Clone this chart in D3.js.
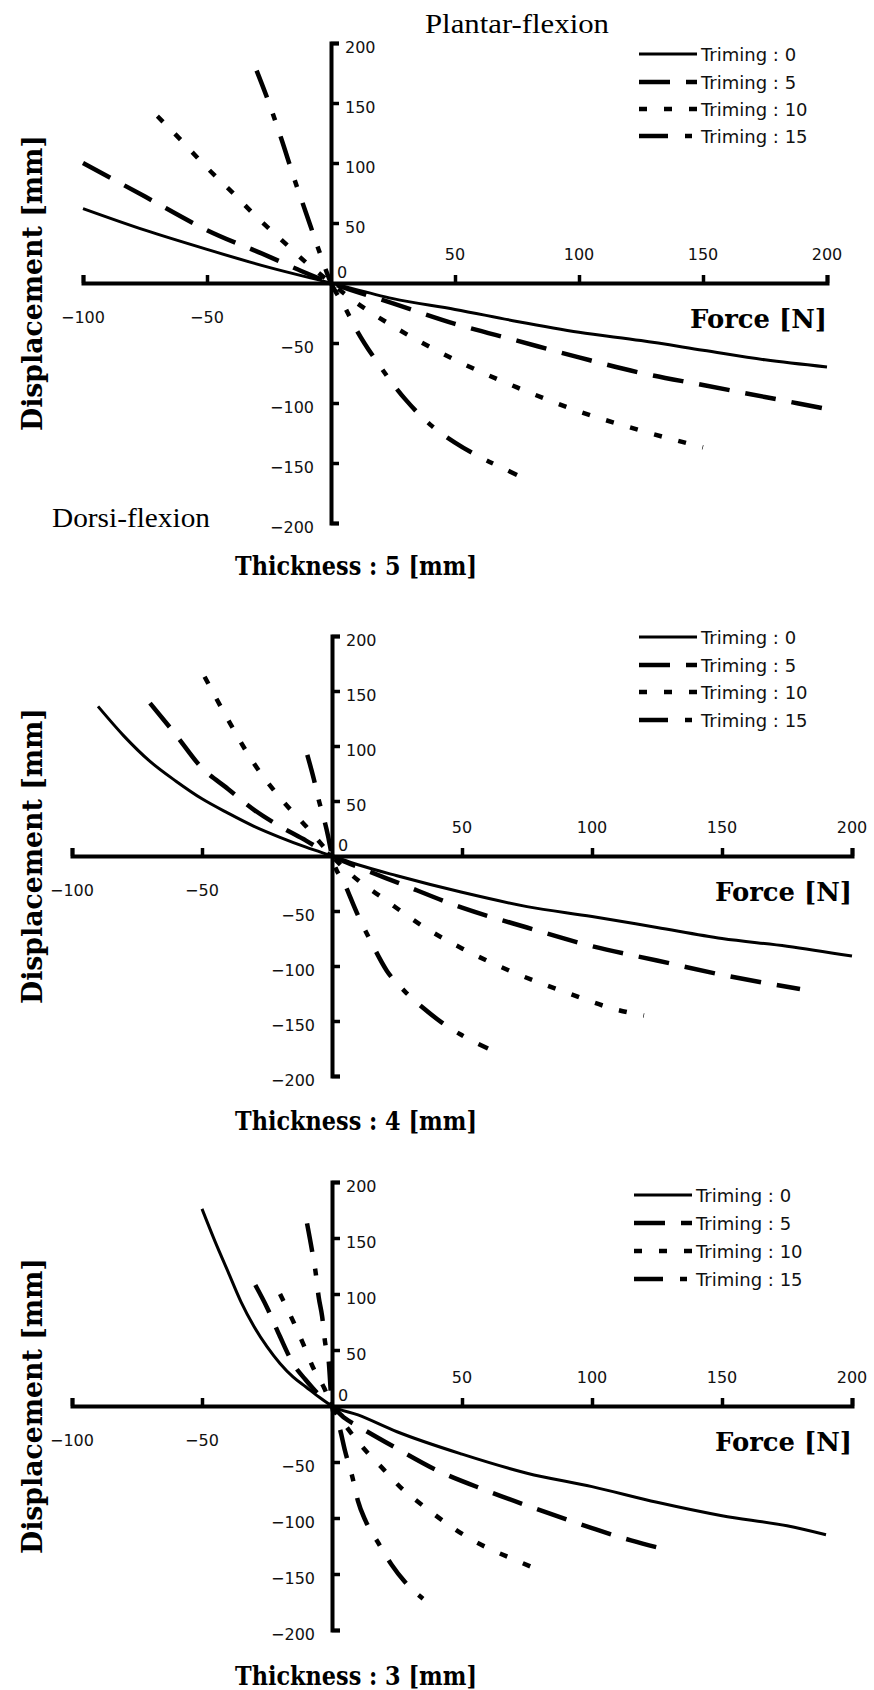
<!DOCTYPE html>
<html><head><meta charset="utf-8">
<script src="https://cdn.jsdelivr.net/npm/d3@7"></script>
<style>body{margin:0;background:#fff}</style>
</head><body><svg id="c" width="874" height="1690"></svg>
<script>
// ---- data ----
const forceDomain = [-100, 200];
const dispDomain = [-200, 200];
const forceTicks = [-100, -50, 50, 100, 150, 200];
const dispTicks = [200, 150, 100, 50, -50, -100, -150, -200];
const trimLabels = ["Triming : 0", "Triming : 5", "Triming : 10", "Triming : 15"];
const thicknessLabels = ["Thickness : 5 [mm]", "Thickness : 4 [mm]", "Thickness : 3 [mm]"];

// [force N, displacement mm]
const th5_trim0 = [[-100,62],[-75,44],[-50,28],[-25,13],[0,0],[25,-13],[50,-22],[75,-32],[100,-41],[125,-48],[150,-56],[175,-64],[200,-70]];
const th5_trim5 = [[-100,100],[-75,72],[-50,44],[-25,22],[-12,10],[0,0],[25,-17],[50,-34],[75,-48],[100,-62],[125,-75],[150,-85],[175,-95],[200,-105]];
const th5_trim10 = [[-70,139],[-60,118],[-50,96],[-40,76],[-30,55],[-20,36],[-10,17],[0,0],[10,-16],[25,-36],[50,-64],[75,-87],[100,-107],[125,-123],[150,-137]];
const th5_trim15 = [[-30,177],[-25,150],[-20,120],[-15,88],[-10,58],[-5,28],[0,0],[5,-18],[10,-38],[20,-70],[30,-97],[40,-118],[50,-133],[60,-145],[70,-155],[75,-160]];

const th4_trim0 = [[-90,136],[-80,109],[-70,86],[-60,68],[-50,52],[-40,39],[-30,27],[-20,17],[-10,8],[0,0],[10,-8],[25,-18],[50,-33],[75,-46],[100,-55],[125,-65],[150,-75],[175,-82],[200,-91]];
const th4_trim5 = [[-70,139],[-60,110],[-50,80],[-40,61],[-30,42],[-20,27],[-10,14],[0,0],[10,-10],[25,-24],[50,-47],[75,-65],[100,-82],[125,-95],[150,-108],[180,-121]];
const th4_trim10 = [[-49,163],[-40,124],[-30,84],[-20,53],[-10,27],[0,0],[5,-12],[10,-22],[20,-39],[35,-64],[50,-84],[70,-106],[90,-124],[110,-140],[120,-145]];
const th4_trim15 = [[-9.5,92],[-7,70],[-5,50],[-3,33],[-1.5,18],[0,0],[5,-26],[10,-54],[15,-78],[21,-104],[28,-123],[35,-138],[42,-151],[50,-163],[60,-175]];

const th3_trim0 = [[-50,176],[-45,147],[-40,120],[-35,93],[-30,71],[-25,53],[-20,38],[-15,26],[-10,17],[-5,8],[0,0],[10,-8],[25,-23],[50,-43],[75,-60],[100,-72],[125,-86],[150,-98],[175,-107],[190,-115]];
const th3_trim5 = [[-29.5,108],[-25,88],[-20,62],[-15,38],[-10,23],[-5,10],[0,0],[5,-11],[10,-18],[25,-38],[40,-57],[60,-76],[80,-93],[100,-109],[115,-120],[130,-129]];
const th3_trim10 = [[-20,100],[-15,76],[-11,55],[-7,33],[-3,16],[0,0],[6,-20],[13,-40],[20,-57],[27,-74],[35,-89],[43,-103],[52,-117],[61,-128],[70,-137],[80,-147]];
const th3_trim15 = [[-9.6,163],[-7.7,139],[-6.4,121],[-5.1,97],[-3.8,80],[-2.6,56],[-1.3,41],[0,0],[3,-20],[5,-40],[8,-65],[10,-85],[13,-103],[18,-123],[23,-142],[28,-157],[35,-172]];

// ---- layout ----
const styles = [
  {w: 3, dash: null},
  {w: 4.5, dash: "31,16"},
  {w: 4.5, dash: "8,17"},
  {w: 4.5, dash: "29,17,7,17"}
];
const panels = [
  {series: [th5_trim0, th5_trim5, th5_trim10, th5_trim15], xr: [83, 827], yr: [43, 523], legX: 639, legY: [54, 82, 109, 136], thickY: 566},
  {series: [th4_trim0, th4_trim5, th4_trim10, th4_trim15], xr: [72, 852], yr: [636, 1076], legX: 639, legY: [637, 665, 692, 720], thickY: 1121},
  {series: [th3_trim0, th3_trim5, th3_trim10, th3_trim15], xr: [72, 852], yr: [1182, 1630], legX: 634, legY: [1195, 1223, 1251, 1279], thickY: 1676}
];

const svg = d3.select("#c");
svg.append("rect").attr("width", 874).attr("height", 1690).attr("fill", "#fff");

const SANS = "'DejaVu Sans', sans-serif";
const SERIF_B = "'DejaVu Serif', serif";
const SERIF = "'Liberation Serif', 'Times New Roman', serif";

panels.forEach((p, pi) => {
  const x = d3.scaleLinear().domain(forceDomain).range(p.xr);
  const y = d3.scaleLinear().domain(dispDomain).range([p.yr[1], p.yr[0]]);
  const g = svg.append("g");
  const x0 = x(0), y0 = y(0);

  // axes
  const gx = g.append("g").attr("transform", `translate(0,${y0})`)
    .call(d3.axisTop(x).tickValues(forceTicks).tickSizeInner(8).tickSizeOuter(8).tickFormat(""));
  const gy = g.append("g").attr("transform", `translate(${x0},0)`)
    .call(d3.axisRight(y).tickValues(dispTicks).tickSizeInner(8).tickSizeOuter(8).tickFormat(""));
  [gx, gy].forEach(a => {
    a.select(".domain").attr("stroke", "#000").attr("stroke-width", 4).attr("fill", "none");
    a.selectAll(".tick line").attr("stroke", "#000").attr("stroke-width", 3.5);
  });

  // x tick labels: negatives below, positives above
  g.selectAll(".xl").data(forceTicks).join("text")
    .attr("x", d => x(d))
    .attr("y", d => d < 0 ? y0 + 34 : y0 - 29)
    .attr("text-anchor", "middle").attr("dominant-baseline", "central")
    .attr("font-family", SANS).attr("font-size", 16).attr("fill", "#111")
    .text(d => d < 0 ? "\u2212" + Math.abs(d) : d);
  // y tick labels: positives right, negatives left
  g.selectAll(".yl").data(dispTicks).join("text")
    .attr("x", d => d > 0 ? x0 + 14 : x0 - 17)
    .attr("y", d => y(d) + 4)
    .attr("text-anchor", d => d > 0 ? "start" : "end").attr("dominant-baseline", "central")
    .attr("font-family", SANS).attr("font-size", 16).attr("fill", "#111")
    .text(d => d < 0 ? "\u2212" + Math.abs(d) : d);
  g.append("text").attr("x", x0 + 11).attr("y", y0 - 11)
    .attr("text-anchor", "middle").attr("dominant-baseline", "central")
    .attr("font-family", SANS).attr("font-size", 16).attr("fill", "#111").text("0");

  // axis titles
  g.append("text").attr("x", x(200)).attr("y", y0 + 36)
    .attr("text-anchor", "end").attr("dominant-baseline", "central")
    .attr("font-family", SERIF_B).attr("font-weight", "bold").attr("font-size", 26)
    .attr("textLength", 137).attr("lengthAdjust", "spacingAndGlyphs")
    .text("Force [N]");
  g.append("text").attr("transform", `translate(32,${y0}) rotate(-90)`)
    .attr("text-anchor", "middle").attr("dominant-baseline", "central")
    .attr("font-family", SERIF_B).attr("font-weight", "bold").attr("font-size", 27)
    .attr("textLength", 296).attr("lengthAdjust", "spacingAndGlyphs")
    .text("Displacement [mm]");
  g.append("text").attr("x", 356).attr("y", p.thickY)
    .attr("text-anchor", "middle").attr("dominant-baseline", "central")
    .attr("font-family", SERIF_B).attr("font-weight", "bold").attr("font-size", 26)
    .attr("textLength", 242).attr("lengthAdjust", "spacingAndGlyphs")
    .text(thicknessLabels[pi]);

  // curves
  const line = d3.line().x(d => x(d[0])).y(d => y(d[1])).curve(d3.curveMonotoneX);
  p.series.forEach((s, i) => {
    g.append("path").datum(s).attr("d", line)
      .attr("fill", "none").attr("stroke", "#000")
      .attr("stroke-width", styles[i].w)
      .attr("stroke-dasharray", styles[i].dash);
  });

  // legend
  trimLabels.forEach((t, i) => {
    const ly = p.legY[i];
    g.append("line").attr("x1", p.legX).attr("x2", p.legX + 58).attr("y1", ly).attr("y2", ly)
      .attr("stroke", "#000").attr("stroke-width", styles[i].w).attr("stroke-dasharray", styles[i].dash);
    g.append("text").attr("x", p.legX + 62).attr("y", ly)
      .attr("dominant-baseline", "central")
      .attr("font-family", SANS).attr("font-size", 18).attr("fill", "#111").text(t);
  });
});

// flexion annotations
svg.append("text").attr("x", 425).attr("y", 33)
  .attr("font-family", SERIF).attr("font-size", 28)
  .attr("textLength", 184).attr("lengthAdjust", "spacingAndGlyphs")
  .text("Plantar-flexion");
svg.append("text").attr("x", 52).attr("y", 527)
  .attr("font-family", SERIF).attr("font-size", 28)
  .attr("textLength", 158).attr("lengthAdjust", "spacingAndGlyphs")
  .text("Dorsi-flexion");
</script></body></html>
